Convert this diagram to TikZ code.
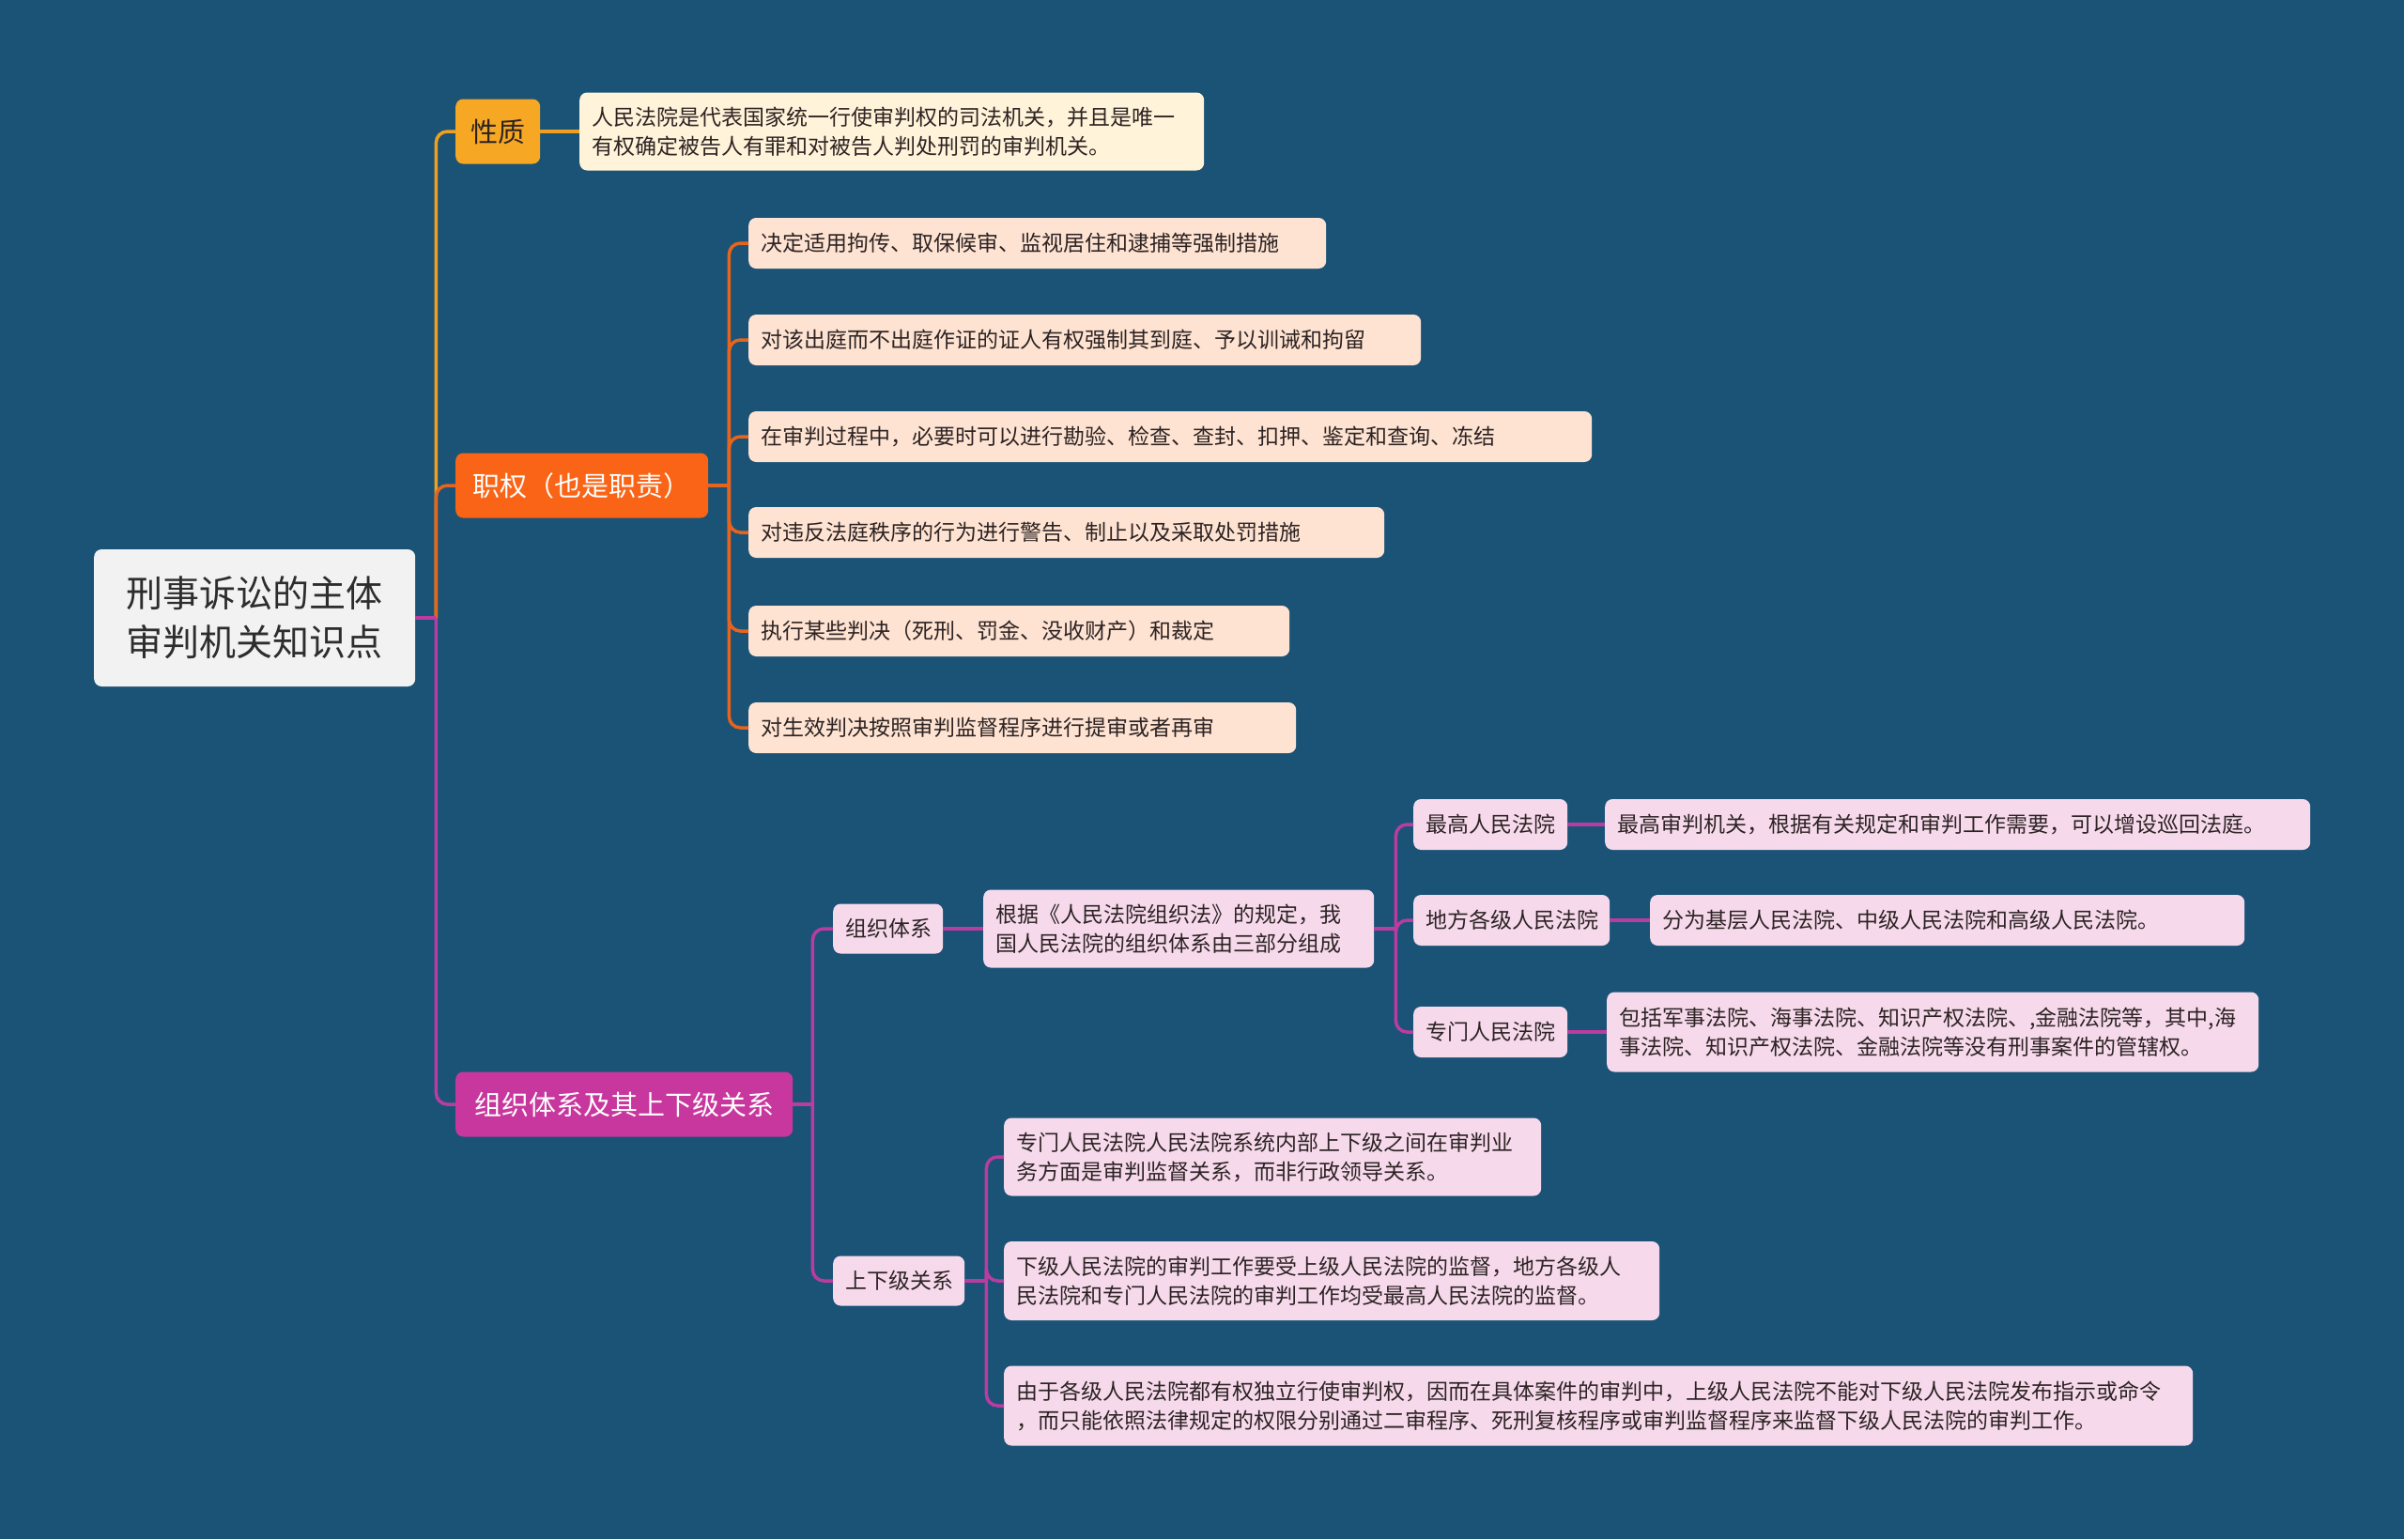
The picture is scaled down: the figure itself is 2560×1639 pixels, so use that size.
\documentclass[tikz,border=0pt]{standalone}
\usepackage{fontspec}
\setmainfont{Noto Sans CJK SC}
\definecolor{bg}{RGB}{26,83,118}
\definecolor{rootfill}{RGB}{242,242,242}
\definecolor{yfill}{RGB}{246,167,35}
\definecolor{ylfill}{RGB}{255,243,217}
\definecolor{ofill}{RGB}{250,100,22}
\definecolor{olfill}{RGB}{254,227,210}
\definecolor{mfill}{RGB}{200,55,157}
\definecolor{mlfill}{RGB}{246,218,236}
\definecolor{ycon}{RGB}{240,160,30}
\definecolor{ocon}{RGB}{230,100,30}
\definecolor{mcon}{RGB}{185,60,160}
\definecolor{txt}{RGB}{45,35,35}
\tikzset{
  boxbase/.style={anchor=west, rounded corners=8pt, inner xsep=13pt, inner ysep=0pt, align=left, text=txt, font=\fontsize{23}{31}\selectfont},
  rootbox/.style={anchor=west, rounded corners=8pt, fill=rootfill, text={rgb,255:red,45;green,45;blue,45}, align=center, inner sep=0pt, font=\fontsize{39}{52}\selectfont},
  topY/.style={anchor=west, rounded corners=8pt, fill=yfill, text=txt, inner sep=0pt, align=center, font=\fontsize{29}{36}\selectfont},
  topO/.style={topY, fill=ofill, text=white},
  topM/.style={topY, fill=mfill, text=white},
  leafY/.style={boxbase, fill=ylfill},
  leafO/.style={boxbase, fill=olfill},
  leafM/.style={boxbase, fill=mlfill},
  conn/.style={line width=3.5pt},
  cY/.style={conn, draw=ycon},
  cO/.style={conn, draw=ocon},
  cM/.style={conn, draw=mcon}
}
% stub from parent to trunk, then rounded elbow into child
\newcommand{\branch}[4]{%
  \draw[#1] (#2.east) -- ++(#4,0);
  \draw[#1, rounded corners=12pt] (#2.east) ++(#4,0) |- (#3.west);
}
\begin{document}
\begin{tikzpicture}[x=1pt,y=-1pt]
\fill[bg] (0,0) rectangle (2560,1639);
\useasboundingbox (0,0) rectangle (2560,1639);

% root
\node[rootbox, minimum width=342pt, minimum height=146pt] (root) at (100,658) {刑事诉讼的主体\\审判机关知识点};

% level 1
\node[topY, minimum width=90pt, minimum height=69pt] (xz) at (485,140) {性质};
\node[topO, minimum width=269pt, minimum height=69pt] (zq) at (485,517) {职权（也是职责）};
\node[topM, minimum width=359pt, minimum height=69pt] (zz) at (485,1176) {组织体系及其上下级关系};

% 性质 leaf
\node[leafY, text width=639pt, minimum height=83pt] (xzl) at (617,140) {人民法院是代表国家统一行使审判权的司法机关，并且是唯一\\有权确定被告人有罪和对被告人判处刑罚的审判机关。};

% 职权 leaves
\node[leafO, text width=589pt, minimum height=54pt] (zq1) at (797,259) {决定适用拘传、取保候审、监视居住和逮捕等强制措施};
\node[leafO, text width=690pt, minimum height=54pt] (zq2) at (797,362) {对该出庭而不出庭作证的证人有权强制其到庭、予以训诫和拘留};
\node[leafO, text width=872pt, minimum height=54pt] (zq3) at (797,465) {在审判过程中，必要时可以进行勘验、检查、查封、扣押、鉴定和查询、冻结};
\node[leafO, text width=651pt, minimum height=54pt] (zq4) at (797,567) {对违反法庭秩序的行为进行警告、制止以及采取处罚措施};
\node[leafO, text width=550pt, minimum height=54pt] (zq5) at (797,672) {执行某些判决（死刑、罚金、没收财产）和裁定};
\node[leafO, text width=557pt, minimum height=54pt] (zq6) at (797,775) {对生效判决按照审判监督程序进行提审或者再审};

% 组织 branch
\node[leafM, text width=91pt, minimum height=53pt] (zt) at (887,989) {组织体系};
\node[leafM, text width=114pt, minimum height=53pt] (sx) at (887,1364) {上下级关系};
\node[leafM, text width=390pt, minimum height=83pt] (gj) at (1047,989) {根据《人民法院组织法》的规定，我\\国人民法院的组织体系由三部分组成};
\node[leafM, text width=138pt, minimum height=54pt] (zg) at (1505,878) {最高人民法院};
\node[leafM, text width=183pt, minimum height=54pt] (df) at (1505,980) {地方各级人民法院};
\node[leafM, text width=138pt, minimum height=54pt] (zm) at (1505,1099) {专门人民法院};
\node[leafM, text width=725pt, minimum height=54pt] (zgl) at (1709,878) {最高审判机关，根据有关规定和审判工作需要，可以增设巡回法庭。};
\node[leafM, text width=607pt, minimum height=54pt] (dfl) at (1757,980) {分为基层人民法院、中级人民法院和高级人民法院。};
\node[leafM, text width=668pt, minimum height=85pt] (zml) at (1711,1099) {包括军事法院、海事法院、知识产权法院、,金融法院等，其中,海\\事法院、知识产权法院、金融法院等没有刑事案件的管辖权。};
\node[leafM, text width=546pt, minimum height=83pt] (sx1) at (1069,1232) {专门人民法院人民法院系统内部上下级之间在审判业\\务方面是审判监督关系，而非行政领导关系。};
\node[leafM, text width=672pt, minimum height=84pt] (sx2) at (1069,1364) {下级人民法院的审判工作要受上级人民法院的监督，地方各级人\\民法院和专门人民法院的审判工作均受最高人民法院的监督。};
\node[leafM, text width=1240pt, minimum height=85pt] (sx3) at (1069,1497) {由于各级人民法院都有权独立行使审判权，因而在具体案件的审判中，上级人民法院不能对下级人民法院发布指示或命令\\，而只能依照法律规定的权限分别通过二审程序、死刑复核程序或审判监督程序来监督下级人民法院的审判工作。};

% connectors
\branch{cY}{root}{xz}{22}
\draw[cY] (xz.east) -- (xzl.west);
\branch{cO}{root}{zq}{22}
\foreach \c in {zq1,zq2,zq3,zq4,zq5,zq6}{
  \branch{cO}{zq}{\c}{22}
}
\branch{cM}{root}{zz}{22}
\branch{cM}{zz}{zt}{21}
\branch{cM}{zz}{sx}{21}
\draw[cM] (zt.east) -- (gj.west);
\foreach \c in {zg,df,zm}{
  \branch{cM}{gj}{\c}{23}
}
\draw[cM] (zg.east) -- (zgl.west);
\draw[cM] (df.east) -- (dfl.west);
\draw[cM] (zm.east) -- (zml.west);
\foreach \c in {sx1,sx2,sx3}{
  \branch{cM}{sx}{\c}{23}
}
\end{tikzpicture}
\end{document}
